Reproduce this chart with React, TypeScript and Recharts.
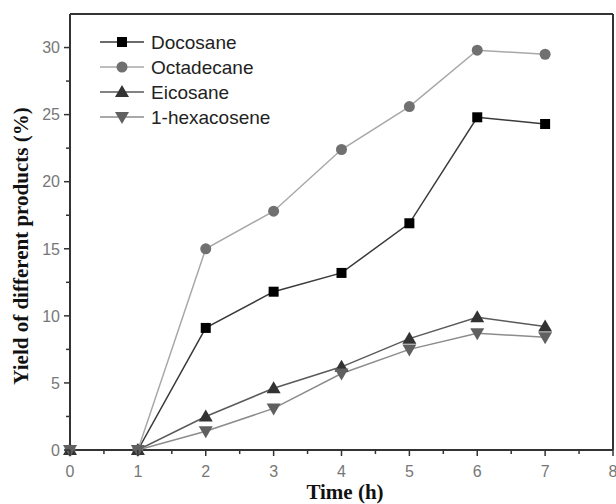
import React from "react";
import { LineChart, Line, XAxis, YAxis, ReferenceLine } from "recharts";

const hours = [0, 1, 2, 3, 4, 5, 6, 7];
const docosane = [0, 0, 9.1, 11.8, 13.2, 16.9, 24.8, 24.3];
const octadecane = [0, 0, 15.0, 17.8, 22.4, 25.6, 29.8, 29.5];
const eicosane = [0, 0, 2.5, 4.6, 6.2, 8.3, 9.9, 9.2];
const hexacosene = [0, 0, 1.4, 3.1, 5.7, 7.5, 8.7, 8.4];

const xTicks = [0, 0.5, 1, 1.5, 2, 2.5, 3, 3.5, 4, 4.5, 5, 5.5, 6, 6.5, 7, 7.5, 8];
const yTicks = [0, 2.5, 5, 7.5, 10, 12.5, 15, 17.5, 20, 22.5, 25, 27.5, 30];

const data = hours.map((t, i) => ({
  t,
  docosane: docosane[i],
  octadecane: octadecane[i],
  eicosane: eicosane[i],
  hexacosene: hexacosene[i],
}));

type Shape = "square" | "circle" | "up" | "down";

const series: { key: string; name: string; line: string; fill: string; shape: Shape }[] = [
  { key: "docosane", name: "Docosane", line: "#3a3a3a", fill: "#000000", shape: "square" },
  { key: "octadecane", name: "Octadecane", line: "#a8a8a8", fill: "#707070", shape: "circle" },
  { key: "eicosane", name: "Eicosane", line: "#5a5a5a", fill: "#333333", shape: "up" },
  { key: "hexacosene", name: "1-hexacosene", line: "#8c8c8c", fill: "#606060", shape: "down" },
];

const marker = (shape: Shape, cx: number, cy: number, fill: string) => {
  if (shape === "square") return <rect x={cx - 5} y={cy - 5} width={10} height={10} fill={fill} />;
  if (shape === "circle") return <circle cx={cx} cy={cy} r={5.5} fill={fill} />;
  if (shape === "up")
    return <polygon points={`${cx},${cy - 7} ${cx + 7},${cy + 5} ${cx - 7},${cy + 5}`} fill={fill} />;
  return <polygon points={`${cx},${cy + 7} ${cx + 7},${cy - 5} ${cx - 7},${cy - 5}`} fill={fill} />;
};

const XTick = ({ x, y, payload }: any) => {
  const major = Number.isInteger(payload.value);
  return (
    <g>
      <line x1={x} x2={x} y1={y} y2={y + (major ? 6 : 4)} stroke="#333" strokeWidth={1.5} />
      {major && (
        <text x={x} y={y + 27} textAnchor="middle" fontSize={16} fill="#777"
          fontFamily="'Liberation Sans', Arial, sans-serif">
          {payload.value}
        </text>
      )}
    </g>
  );
};

const YTick = ({ x, y, payload }: any) => {
  const major = payload.value % 5 === 0;
  return (
    <g>
      <line x1={x} x2={x - (major ? 6 : 4)} y1={y} y2={y} stroke="#333" strokeWidth={1.5} />
      {major && (
        <text x={x - 10} y={y} dy="0.36em" textAnchor="end" fontSize={16} fill="#777"
          fontFamily="'Liberation Sans', Arial, sans-serif">
          {payload.value}
        </text>
      )}
    </g>
  );
};

const LegendBox = () => (
  <svg width={220} height={120} style={{ display: "block" }}>
    {series.map((s, i) => {
      const cy = 14 + i * 25;
      return (
        <g key={s.key}>
          <line x1={6} x2={50} y1={cy} y2={cy} stroke={s.line} strokeWidth={1.5} />
          {marker(s.shape, 28, cy, s.fill)}
          <text x={57} y={cy} dy="0.36em" fontSize={19} fill="#222"
            fontFamily="'Liberation Sans', Arial, sans-serif">
            {s.name}
          </text>
        </g>
      );
    })}
  </svg>
);

export default function App() {
  return (
    <div style={{ position: "absolute", left: 0, top: 0, width: 616, height: 504, background: "#fff" }}>
      <LineChart width={616} height={504} data={data} margin={{ top: 14, right: 3, bottom: 0, left: 0 }}>
        <XAxis
          dataKey="t"
          type="number"
          domain={[0, 8]}
          ticks={xTicks}
          interval={0}
          tickSize={0}
          tickMargin={0}
          tickLine={false}
          tick={<XTick />}
          height={54}
          axisLine={{ stroke: "#333", strokeWidth: 2 }}
          label={() => (
            <text x={345} y={499} textAnchor="middle" fontSize={21} fontWeight="bold" fill="#111"
              fontFamily="'Liberation Serif', 'Times New Roman', serif">
              Time (h)
            </text>
          )}
        />
        <YAxis
          type="number"
          domain={[0, 32.5]}
          ticks={yTicks}
          interval={0}
          width={70}
          tickSize={0}
          tickMargin={0}
          tickLine={false}
          tick={<YTick />}
          axisLine={{ stroke: "#333", strokeWidth: 2 }}
          label={() => (
            <text x={21} y={246} transform="rotate(-90 21 246)" dy="0.35em" textAnchor="middle" fontSize={21}
              fontWeight="bold" fill="#111" fontFamily="'Liberation Serif', 'Times New Roman', serif">
              Yield of different products (%)
            </text>
          )}
        />
        <ReferenceLine y={32.5} stroke="#333" strokeWidth={2} />
        <ReferenceLine x={8} stroke="#333" strokeWidth={2} />
        {series.map((s) => (
          <Line
            key={s.key}
            dataKey={s.key}
            name={s.name}
            stroke={s.line}
            strokeWidth={1.5}
            isAnimationActive={false}
            dot={(p: any) => <g key={`${s.key}-${p.index}`}>{marker(s.shape, p.cx, p.cy, s.fill)}</g>}
            activeDot={false}
          />
        ))}
      </LineChart>
      <div style={{ position: "absolute", left: 94, top: 28 }}>
        <LegendBox />
      </div>
    </div>
  );
}
